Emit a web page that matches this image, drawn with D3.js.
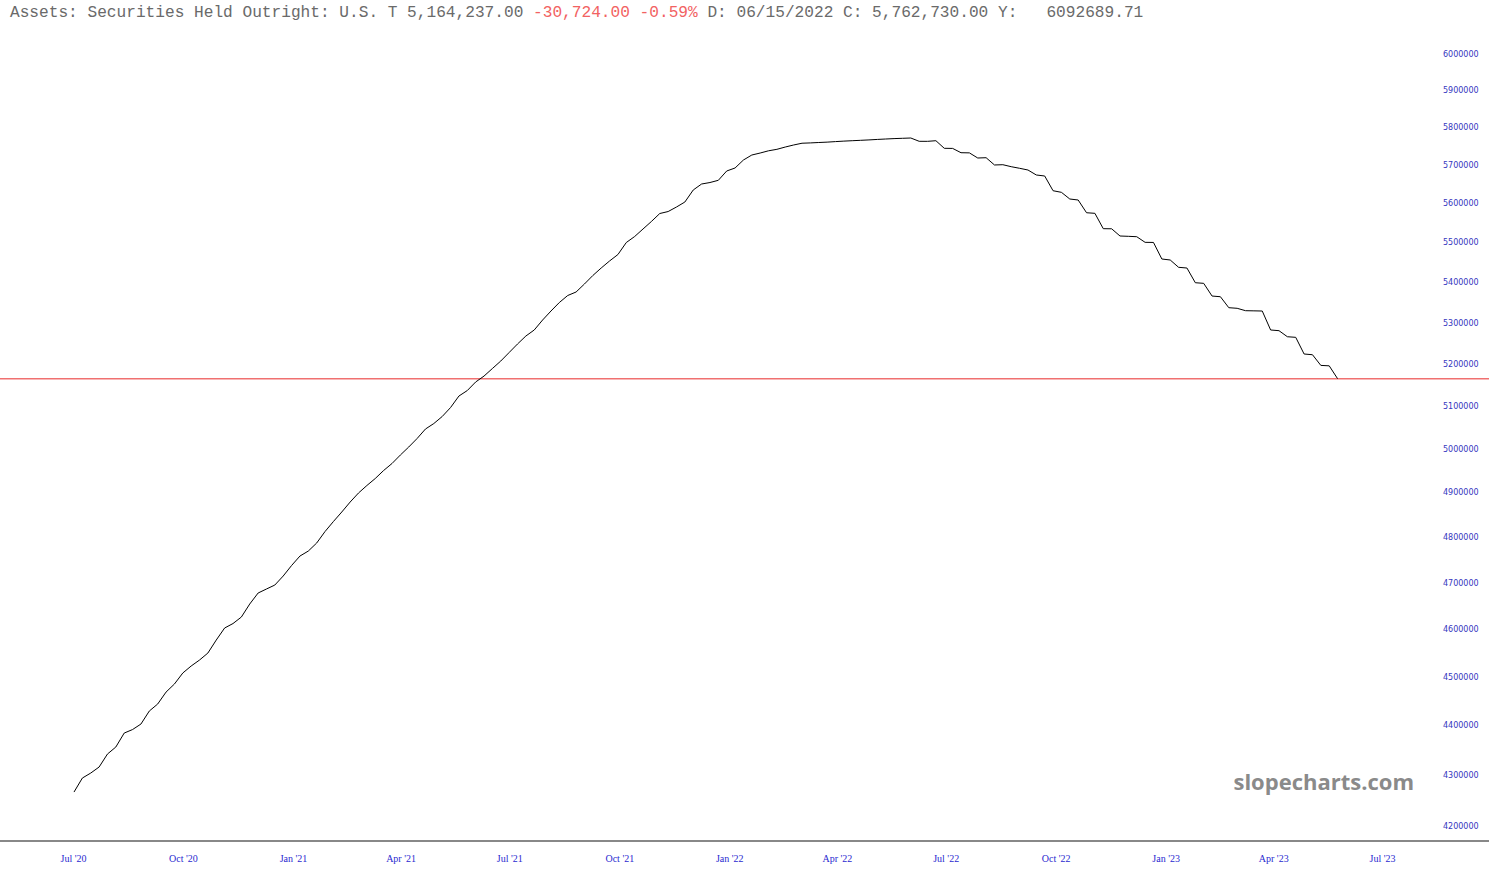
<!DOCTYPE html>
<html>
<head>
<meta charset="utf-8">
<script src="https://cdn.jsdelivr.net/npm/d3@7"></script>
<style>
  html, body { margin: 0; padding: 0; background: #ffffff; }
  svg { display: block; }
</style>
</head>
<body>
<svg id="chart" width="1489" height="881"></svg>
<script>
// ---------------- DATA ----------------
const seriesName = "Assets: Securities Held Outright: U.S. T";
const firstDate = "2020-07-01";          // weekly (Wednesday) observations
const holdings = [
  4266400, 4294100, 4304000, 4316000, 4342000, 4356100, 4384300, 4391400, 4402600, 4429100,
  4443500, 4468100, 4484700, 4507600, 4522200, 4534700, 4549400, 4576800, 4602300, 4611800,
  4625700, 4653600, 4677300, 4686000, 4694600, 4714200, 4737100, 4757900, 4768900, 4786600,
  4812100, 4834400, 4855700, 4878100, 4898500, 4915500, 4931400, 4949700, 4965700, 4985200,
  5003700, 5023400, 5045500, 5058300, 5074700, 5095800, 5123000, 5136000, 5156300, 5170500,
  5188500, 5206500, 5227000, 5247600, 5267000, 5281700, 5306100, 5328200, 5349200, 5366500,
  5375200, 5395100, 5416300, 5435100, 5452800, 5469100, 5499500, 5514800, 5534000, 5553200,
  5573700, 5578800, 5590500, 5603400, 5634600, 5650200, 5654100, 5659900, 5684300, 5692200,
  5713200, 5726400, 5731700, 5737600, 5741500, 5747600, 5753000, 5757700, 5758500, 5759600,
  5760600, 5762000, 5763300, 5764400, 5765400, 5766500, 5767800, 5768900, 5770000, 5770800,
  5771600, 5762800, 5762730, 5764400, 5744200, 5743900, 5732500, 5732100, 5718500, 5719300,
  5700100, 5700800, 5695600, 5691400, 5686900, 5673800, 5671200, 5632700, 5628500, 5611200,
  5608600, 5575700, 5574200, 5534800, 5534500, 5516100, 5515300, 5514300, 5500000, 5499700,
  5457800, 5455300, 5436900, 5435100, 5398300, 5396800, 5365200, 5363500, 5336400, 5334900,
  5329000, 5328600, 5328200, 5281700, 5280000, 5265300, 5263800, 5223400, 5221700, 5196000,
  5194961, 5164237
];
const lastValue = 5164237;
const headerParts = [
  { text: "Assets: Securities Held Outright: U.S. T 5,164,237.00 ", color: "#6a6a6a" },
  { text: "-30,724.00 -0.59% ", color: "#f26262" },
  { text: "D: 06/15/2022 C: 5,762,730.00 Y:   6092689.71", color: "#6a6a6a" }
];
const yTickValues = [4200000, 4300000, 4400000, 4500000, 4600000, 4700000, 4800000, 4900000,
  5000000, 5100000, 5200000, 5300000, 5400000, 5500000, 5600000, 5700000, 5800000, 5900000, 6000000];
const xTickDates = ["2020-07-01", "2020-10-01", "2021-01-01", "2021-04-01", "2021-07-01", "2021-10-01",
  "2022-01-01", "2022-04-01", "2022-07-01", "2022-10-01", "2023-01-01", "2023-04-01", "2023-07-01"];
const xTickLabels = ["Jul '20", "Oct '20", "Jan '21", "Apr '21", "Jul '21", "Oct '21",
  "Jan '22", "Apr '22", "Jul '22", "Oct '22", "Jan '23", "Apr '23", "Jul '23"];
const watermark = "slopecharts.com";

// ---------------- CHART ----------------
const W = 1489, H = 881;
const svg = d3.select("#chart");
const parse = d3.utcParse("%Y-%m-%d");
const start = parse(firstDate);
const data = holdings.map((v, i) => ({ date: d3.utcDay.offset(start, 7 * i), value: v }));

const x = d3.scaleUtc()
  .domain([parse("2020-07-01"), parse("2023-07-01")])
  .range([74, 1383]);
const y = d3.scaleLog()
  .domain([4200000, 6000000])
  .range([826, 54]);

svg.append("rect").attr("width", W).attr("height", H).attr("fill", "#ffffff");

// header
const header = svg.append("text")
  .attr("x", 10).attr("y", 17)
  .attr("font-family", "'Liberation Mono', 'DejaVu Sans Mono', monospace")
  .attr("font-size", 16.15)
  .attr("xml:space", "preserve")
  .style("white-space", "pre");
headerParts.forEach(p => header.append("tspan").attr("fill", p.color).text(p.text));

// y axis (right side labels, no line)
const yAxis = d3.axisRight(y)
  .tickValues(yTickValues)
  .tickFormat(d3.format("d"))
  .tickSize(0)
  .tickPadding(0);
const yg = svg.append("g").attr("transform", "translate(1443,0)").call(yAxis);
yg.select(".domain").remove();
yg.selectAll("text")
  .attr("fill", "#3535c0")
  .attr("font-family", "'DejaVu Sans', Verdana, sans-serif")
  .attr("font-size", 8);

// x axis
const xAxis = d3.axisBottom(x)
  .tickValues(xTickDates.map(parse))
  .tickFormat((d, i) => xTickLabels[i])
  .tickSize(0)
  .tickPadding(0);
const xg = svg.append("g").attr("transform", "translate(-1,855)").call(xAxis);
xg.select(".domain").remove();
xg.selectAll("text")
  .attr("fill", "#2a2ad0")
  .attr("font-family", "'Liberation Serif', 'Times New Roman', serif")
  .attr("font-size", 10);

// axis baseline
svg.append("line")
  .attr("x1", 0).attr("x2", W)
  .attr("y1", 841).attr("y2", 841)
  .attr("stroke", "#888888").attr("stroke-width", 2);

// watermark
svg.append("text")
  .attr("x", 1414).attr("y", 790)
  .attr("text-anchor", "end")
  .attr("font-family", "'Open Sans', 'DejaVu Sans', sans-serif")
  .attr("font-weight", 700)
  .attr("font-size", 22)
  .attr("fill", "#8a8a8a")
  .text(watermark);

// last value line
svg.append("line")
  .attr("x1", 0).attr("x2", W)
  .attr("y1", y(lastValue)).attr("y2", y(lastValue))
  .attr("stroke", "#f07070").attr("stroke-width", 1.5);

// series line
const line = d3.line().x(d => x(d.date)).y(d => y(d.value));
svg.append("path")
  .datum(data)
  .attr("fill", "none")
  .attr("stroke", "#000000")
  .attr("stroke-width", 1)
  .attr("d", line);
</script>
</body>
</html>
